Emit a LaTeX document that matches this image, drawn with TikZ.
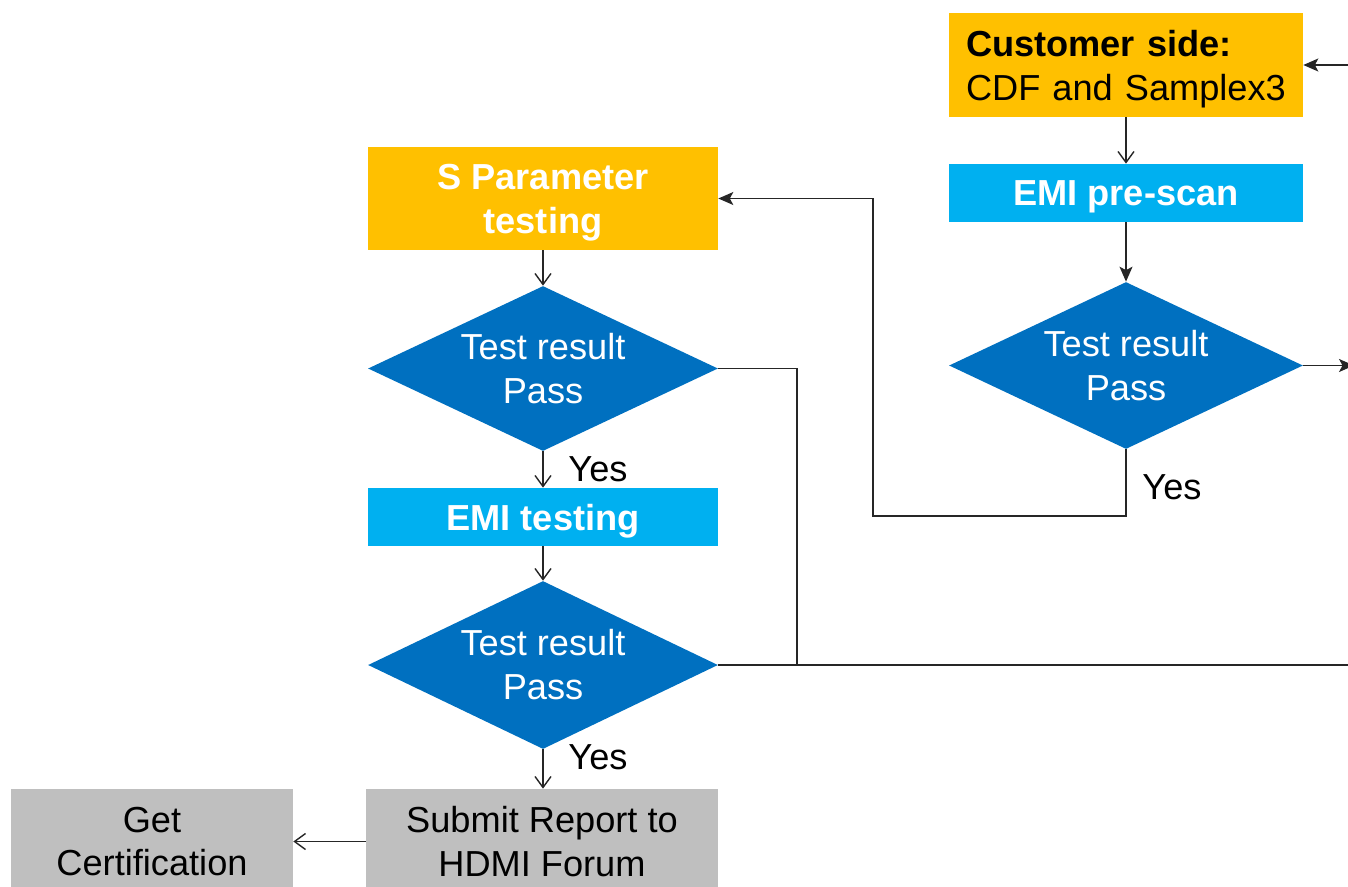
\documentclass[tikz,border=0pt]{standalone}
\usepackage{fontspec}
\setmainfont{Liberation Sans}
\usepackage{tikz}
\usetikzlibrary{arrows.meta}
\usetikzlibrary{shapes.geometric}
\definecolor{setup}{HTML}{FFC000}
\definecolor{emi}{HTML}{00B0F0}
\definecolor{check}{HTML}{0070C0}
\definecolor{report}{HTML}{BFBFBF}
\colorlet{wire}{black!85}
\newcommand{\chartfont}{\fontsize{20.6}{25}\selectfont}

\tikzset{
  box/.style={rectangle, inner sep=0pt, align=center, font=\chartfont},
  setupbox/.style={box, fill=setup},
  emibox/.style={box, fill=emi, text=white, font=\chartfont\bfseries, text depth=0pt},
  reportbox/.style={box, fill=report, text=black},
  checkbox/.style={diamond, aspect=2.12, inner sep=0pt, fill=check, text=white,
    align=center, font=\chartfont},
  answer/.style={font=\chartfont, text=black},
  open/.style={wire, line width=0.8pt, -{Straight Barb[length=2.2mm,width=3.2mm]}},
  solid/.style={wire, line width=0.8pt, -{Stealth[length=3mm,width=2.6mm,inset=0.7mm]}},
  plain/.style={wire, line width=0.8pt}
}

\begin{document}
\begin{tikzpicture}[x=0.02cm, y=-0.02cm]
  \clip (0, 0) rectangle (1348, 886);

  % ---------- Right side (pre-scan) ----------

  % Shapes
  \node[setupbox, minimum width=7.08cm, minimum height=2.08cm, text width=6.4cm,
    inner xsep=0.34cm, align=left, text height=20pt] at (1126, 65) (cust)
    {\textbf{Customer side:}\\CDF and Samplex3};
  \node[emibox, minimum width=7.08cm, minimum height=1.16cm] at (1126, 193) (prescan) {EMI pre-scan};
  \node[checkbox, minimum width=7.08cm, minimum height=3.34cm] at (1126, 365.5) (d2) {Test result\\Pass};

  % ---------- Left side (testing) ----------

  % Shapes
  \node[setupbox, text=white, font=\chartfont\bfseries, text depth=0pt,
    minimum width=7cm, minimum height=2.06cm] at (543, 198.5) (spar) {S Parameter\\testing};
  \node[checkbox, minimum width=7cm, minimum height=3.3cm] at (543, 368.5) (d1) {Test result\\Pass};
  \node[emibox, minimum width=7cm, minimum height=1.16cm] at (543, 517) (emitest) {EMI testing};
  \node[checkbox, minimum width=7cm, minimum height=3.36cm] at (543, 665) (d3) {Test result\\Pass};
  \node[reportbox, minimum width=7.04cm, minimum height=2.1cm] at (542, 841.5) (submit)
    {Submit Report to\\HDMI Forum};
  \node[reportbox, minimum width=5.64cm, minimum height=2.1cm] at (152, 841.5) (cert)
    {Get\\Certification};

  % Labels
  \node[answer] at (598, 469) (yes1) {Yes};
  \node[answer] at (1172, 487) (yes2) {Yes};
  \node[answer] at (598, 757) (yes3) {Yes};

  % ---------- Lines ----------
  \coordinate (inR) at (1360, 65);
  \coordinate (outR) at (1354, 365.5);
  \coordinate (loopB) at (873, 516);
  \coordinate (join) at (797, 665);
  \coordinate (failR) at (1360, 665);

  \draw[solid] (inR) -- (cust.east);
  \draw[open] (cust.south) -- (prescan.north);
  \draw[solid] (prescan.south) -- (d2.north);
  \draw[solid] (d2.east) -- (outR);
  \draw[solid] (d2.south) |- (loopB) |- (spar.east);

  \draw[open] (spar.south) -- (d1.north);
  \draw[open] (d1.south) -- (emitest.north);
  \draw[open] (emitest.south) -- (d3.north);
  \draw[open] (d3.south) -- (d3.south |- submit.north);
  \draw[open] (submit.west) -- (cert.east);
  \draw[plain] (d1.east) -| (join);
  \draw[plain] (d3.east) -- (failR);
\end{tikzpicture}
\end{document}
